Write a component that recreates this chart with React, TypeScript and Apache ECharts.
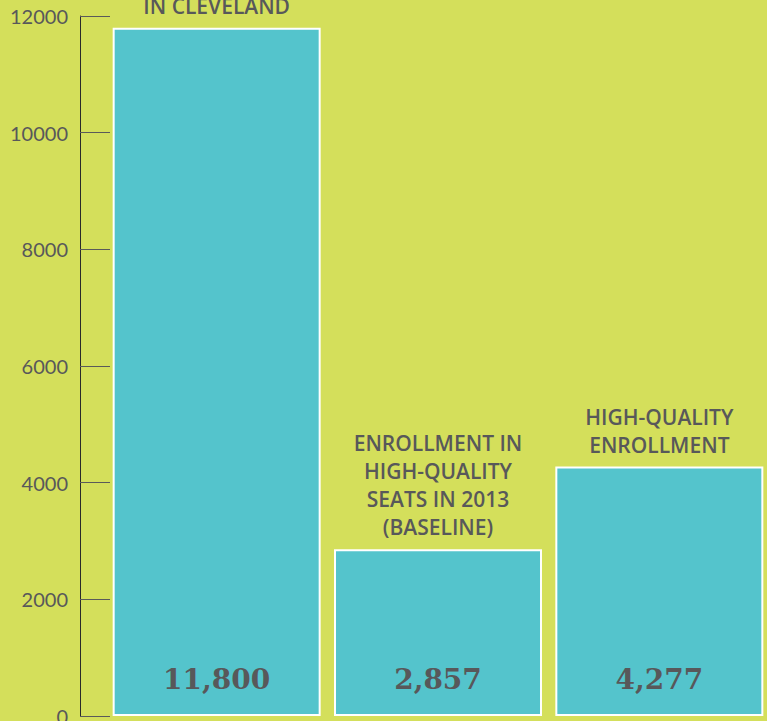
import React, { useEffect, useRef } from "react";
import * as echarts from "echarts";

const categories = ["IN CLEVELAND", "ENROLLMENT IN\nHIGH-QUALITY\nSEATS IN 2013\n(BASELINE)", "HIGH-QUALITY\nENROLLMENT"];
const values = [11800, 2857, 4277];
const valueLabels = ["11,800", "2,857", "4,277"];

const BG = "#D4DF5B";
const BAR = "#54C4CC";
const TEXT = "#58585A";

export default function App() {
  const ref = useRef<HTMLDivElement>(null);
  useEffect(() => {
    const chart = echarts.init(ref.current!, undefined, { renderer: "svg" });
    chart.setOption({
      animation: false,
      backgroundColor: BG,
      grid: { left: 106, top: 16, bottom: 5, width: 664, outerBoundsMode: "none", containLabel: false },
      xAxis: {
        type: "category",
        data: categories,
        show: false,
      },
      yAxis: {
        type: "value",
        min: 0,
        max: 12000,
        interval: 2000,
        offset: 26,
        axisLine: { show: true, lineStyle: { color: "#2a2a2a", width: 1 } },
        axisTick: { show: true, inside: true, length: 30, lineStyle: { color: "#5a5a5a", width: 1 } },
        axisLabel: {
          margin: 12,
          color: TEXT,
          fontFamily: "Lato",
          fontSize: 20,
          formatter: (v: number) => String(v),
        },
        splitLine: { show: false },
      },
      series: [
        {
          type: "bar",
          data: values,
          barWidth: 208,
          itemStyle: { color: BAR, borderColor: "#ffffff", borderWidth: 2 },
          label: {
            show: true,
            position: "top",
            distance: 8,
            formatter: (p: any) => categories[p.dataIndex],
            color: TEXT,
            fontFamily: "Open Sans",
            fontWeight: 600,
            fontSize: 21,
            lineHeight: 28,
            align: "center",
          },
        },
        {
          type: "bar",
          data: values,
          barWidth: 208,
          barGap: "-100%",
          itemStyle: { color: "rgba(0,0,0,0)" },
          label: {
            show: true,
            position: "insideBottom",
            distance: 23,
            formatter: (p: any) => valueLabels[p.dataIndex],
            color: TEXT,
            fontFamily: "DejaVu Serif",
            fontWeight: "bold",
            fontSize: 28,
          },
        },
      ],
    });
    return () => chart.dispose();
  }, []);
  return (
    <div
      ref={ref}
      style={{ position: "fixed", left: 0, top: 0, width: 767, height: 721 }}
    />
  );
}
